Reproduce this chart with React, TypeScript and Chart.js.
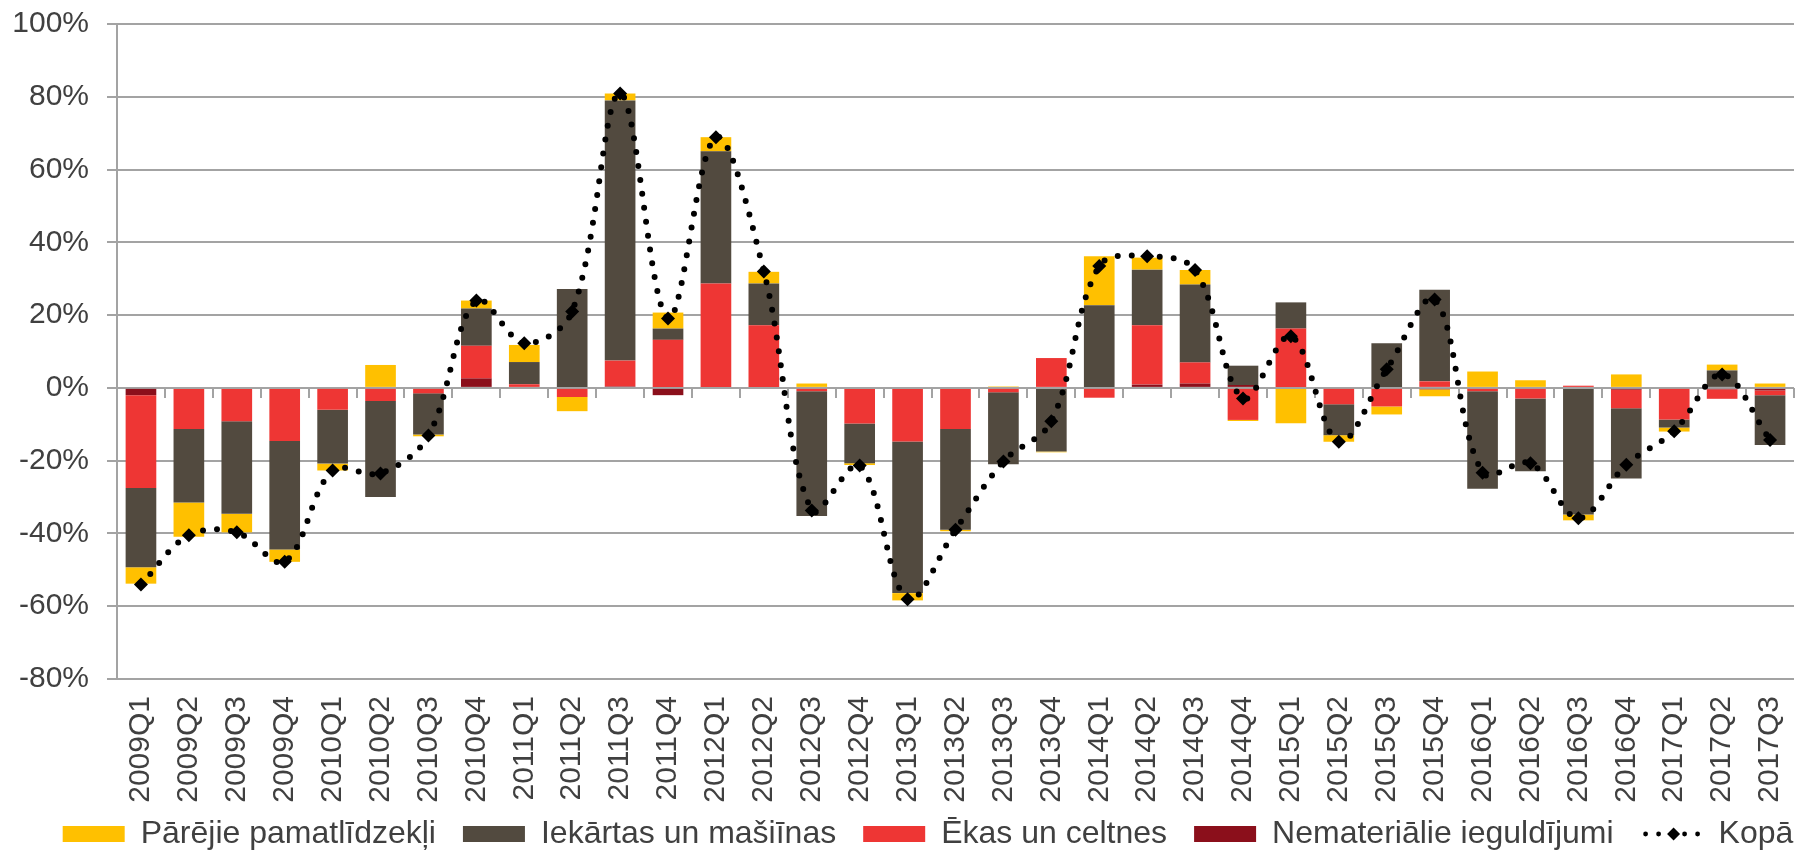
import React, { useEffect, useRef } from 'react';
import { Chart, registerables } from 'chart.js';

Chart.register(...registerables);

const quarters = [
  '2009Q1', '2009Q2', '2009Q3', '2009Q4',
  '2010Q1', '2010Q2', '2010Q3', '2010Q4',
  '2011Q1', '2011Q2', '2011Q3', '2011Q4',
  '2012Q1', '2012Q2', '2012Q3', '2012Q4',
  '2013Q1', '2013Q2', '2013Q3', '2013Q4',
  '2014Q1', '2014Q2', '2014Q3', '2014Q4',
  '2015Q1', '2015Q2', '2015Q3', '2015Q4',
  '2016Q1', '2016Q2', '2016Q3', '2016Q4',
  '2017Q1', '2017Q2', '2017Q3',
];

// Nemateriālie ieguldījumi
const nematerialie = [
  -2.0, 0, 0, 0,
  0, 0, 0, 2.6,
  0, 0, 0.4, -2.0,
  0, 0, 0, 0,
  0, 0, 0, 0,
  0, 0.9, 1.2, 0.8,
  0, 0, 0, -0.4,
  0, 0, 0, -0.5,
  0, -0.4, -0.7,
];

// Ēkas un celtnes
const ekas = [
  -25.5, -11.3, -9.2, -14.6,
  -6.0, -3.6, -1.5, 9.0,
  1.0, -2.5, 7.1, 13.2,
  28.7, 17.2, -0.9, -9.8,
  -14.7, -11.3, -1.2, 8.2,
  -2.7, 16.3, 5.8, -8.8,
  16.3, -4.5, -5.1, 1.8,
  -0.9, -2.9, 0.6, -5.1,
  -8.7, -2.6, -1.3,
];

// Iekārtas un mašīnas
const iekartas = [
  -21.8, -20.2, -25.4, -29.8,
  -14.8, -26.4, -11.3, 10.2,
  6.1, 27.2, 71.5, 3.1,
  36.3, 11.5, -34.3, -10.9,
  -41.7, -27.7, -19.8, -17.5,
  22.7, 15.3, 21.4, 5.3,
  7.2, -8.5, 12.3, 25.2,
  -26.8, -20.0, -34.8, -19.3,
  -2.2, 4.8, -13.7,
];

// Pārējie pamatlīdzekļi
const parejie = [
  -4.5, -9.4, -5.1, -3.4,
  -1.9, 6.3, -0.5, 2.2,
  4.7, -3.9, 1.9, 4.4,
  3.9, 3.2, 1.2, -0.5,
  -2.0, -0.4, 0.4, -0.2,
  13.5, 3.3, 4.0, -0.3,
  -9.7, -1.8, -2.2, -1.9,
  4.5, 2.1, -1.6, 3.7,
  -1.1, 1.6, 1.2,
];

// Kopā
const kopa = [
  -54.0, -40.5, -39.7, -47.8,
  -22.7, -23.5, -13.1, 24.0,
  12.3, 21.0, 80.9, 19.1,
  68.9, 32.0, -33.7, -21.3,
  -58.1, -39.0, -20.2, -9.2,
  33.5, 36.2, 32.4, -2.9,
  14.2, -14.8, 5.1, 24.3,
  -23.3, -20.7, -35.8, -21.1,
  -11.9, 3.7, -14.3,
];

const yTicks = [-80, -60, -40, -20, 0, 20, 40, 60, 80, 100];

const seriesLabels = [
  'Nemateriālie ieguldījumi',
  'Ēkas un celtnes',
  'Iekārtas un mašiīnas',
  'Pārējie pamatlīdzekļi',
  'Kopā',
];

const COLORS = ['#8B0F1B', '#EE3634', '#524A3F', '#FFC000', '#000000'];
const GRID = '#A3A3A3';
const TEXT = '#404040';
const legendRank = [3, 2, 1, 0, 4];

export default function App() {
  const ref = useRef<HTMLCanvasElement | null>(null);

  useEffect(() => {
    document.body.style.margin = '0';
    const canvas = ref.current;
    if (!canvas) return;

    Chart.defaults.font.family = "'Liberation Sans', Arial, sans-serif";
    Chart.defaults.color = TEXT;

    const zeroTicks = {
      id: 'zeroTicks',
      beforeDatasetsDraw(chart: any) {
        const xs = chart.scales.x;
        const ys = chart.scales.y;
        const y0 = ys.getPixelForValue(0);
        const c = chart.ctx;
        c.save();
        c.strokeStyle = GRID;
        c.lineWidth = 2;
        c.beginPath();
        const n = quarters.length;
        for (let i = 0; i < n; i++) {
          const cur = xs.getPixelForValue(i);
          const next = i < n - 1 ? xs.getPixelForValue(i + 1) : cur + (cur - xs.getPixelForValue(i - 1));
          const bx = Math.round((cur + next) / 2);
          c.moveTo(bx, y0);
          c.lineTo(bx, y0 + 10);
        }
        c.stroke();
        c.restore();
      },
    };

    const legendShift = {
      id: 'legendShift',
      afterLayout(chart: any) {
        const lg = chart.legend;
        if (!lg) return;
        lg.left += 31;
        lg.right += 31;
        lg.top -= 21;
        lg.bottom -= 21;
      },
    };

    const kopaLegend = {
      id: 'kopaLegend',
      afterDraw(chart: any) {
        const lg = chart.legend;
        if (!lg || !lg.legendItems || !lg.legendHitBoxes) return;
        const idx = lg.legendItems.findIndex((it: any) => it.datasetIndex === 4);
        if (idx < 0) return;
        const hb = lg.legendHitBoxes[idx];
        const bw = lg.options.labels.boxWidth;
        const cy = hb.top + hb.height / 2;
        const c = chart.ctx;
        c.save();
        c.fillStyle = '#000';
        for (let k = 0; k < 5; k++) {
          const dx = hb.left + 5 + k * 13;
          c.beginPath();
          c.arc(dx, cy, 2.4, 0, Math.PI * 2);
          c.fill();
        }
        const mx = hb.left + bw / 2 + 2;
        const r = 6.5;
        c.beginPath();
        c.moveTo(mx, cy - r);
        c.lineTo(mx + r, cy);
        c.lineTo(mx, cy + r);
        c.lineTo(mx - r, cy);
        c.closePath();
        c.fill();
        c.restore();
      },
    };

    const barData = [nematerialie, ekas, iekartas, parejie];
    const datasets: any[] = barData.map((d, i) => ({
      type: 'bar',
      label: seriesLabels[i],
      data: d,
      backgroundColor: COLORS[i],
      borderWidth: 0,
      stack: 'bars',
      barPercentage: 0.64,
      categoryPercentage: 1,
      order: 1,
    }));
    datasets.push({
      type: 'line',
      label: seriesLabels[4],
      data: kopa,
      stack: 'kopa',
      borderColor: '#000',
      backgroundColor: '#000',
      borderWidth: 6,
      borderDash: [0, 14],
      borderCapStyle: 'round',
      tension: 0.35,
      pointStyle: 'rectRot',
      pointRadius: 7,
      pointBackgroundColor: '#000',
      pointBorderWidth: 0,
      order: 0,
    });

    const chart = new Chart(canvas, {
      type: 'bar',
      data: { labels: quarters, datasets },
      options: {
        animation: false,
        responsive: true,
        maintainAspectRatio: false,
        layout: { padding: { left: 0, right: 7, top: 24, bottom: -28 } },
        plugins: {
          tooltip: { enabled: false },
          legend: {
            position: 'bottom',
            labels: {
              color: TEXT,
              font: { size: 32 },
              boxWidth: 62,
              boxHeight: 16,
              padding: 27,
              sort: (a: any, b: any) => legendRank[a.datasetIndex] - legendRank[b.datasetIndex],
              generateLabels: (ch: any) => {
                const items = (Chart.defaults.plugins.legend.labels as any).generateLabels(ch);
                items.forEach((it: any) => {
                  if (it.datasetIndex === 4) {
                    it.fillStyle = 'rgba(0,0,0,0)';
                    it.strokeStyle = 'rgba(0,0,0,0)';
                    it.lineWidth = 0;
                    it.lineDash = [];
                  }
                });
                return items;
              },
            },
          },
        },
        scales: {
          x: {
            stacked: true,
            grid: { display: false, drawTicks: false },
            border: { display: false },
            ticks: {
              autoSkip: false,
              maxRotation: 90,
              minRotation: 90,
              padding: 17,
              color: TEXT,
              font: { size: 30 },
            },
            afterFit: (s: any) => {
              s.height = 133;
              s.paddingLeft = 0;
              s.paddingRight = 0;
            },
          },
          y: {
            stacked: true,
            min: -80,
            max: 100,
            afterBuildTicks: (s: any) => { s.ticks = yTicks.map((v) => ({ value: v })); },
            grid: { color: GRID, lineWidth: 2, tickLength: 10, drawTicks: true },
            border: { display: true, color: GRID, width: 2 },
            ticks: {
              padding: 18,
              color: TEXT,
              font: { size: 30 },
              callback: (v: any) => `${v}%`,
            },
            afterFit: (s: any) => {
              s.width = 117;
              s.paddingTop = 0;
              s.paddingBottom = 0;
            },
          },
        },
      },
      plugins: [zeroTicks, legendShift, kopaLegend],
    } as any);

    return () => chart.destroy();
  }, []);

  return (
    <div style={{ width: '1801px', height: '853px', position: 'relative' }}>
      <canvas ref={ref} />
    </div>
  );
}
